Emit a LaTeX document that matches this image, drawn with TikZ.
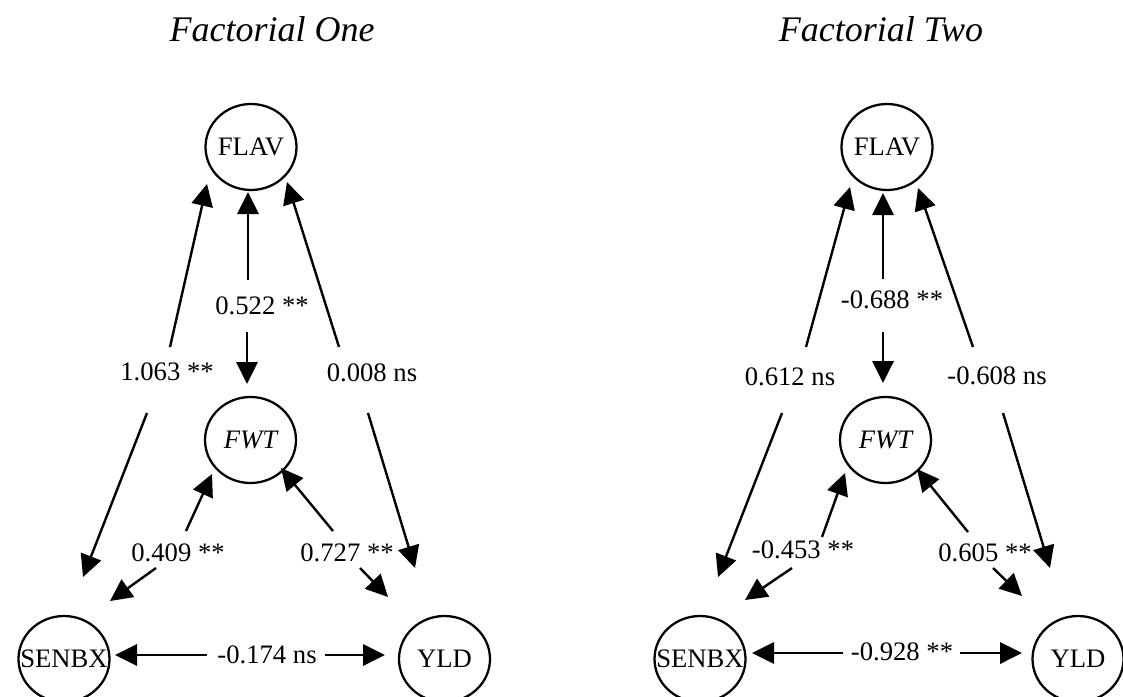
\documentclass[tikz,border=0pt]{standalone}
\usepackage{fontspec}
\setmainfont{Liberation Serif}
\usetikzlibrary{arrows.meta,shapes.geometric}
\newcommand{\ctext}[1]{\makebox[0pt]{#1}}
\begin{document}
\begin{tikzpicture}[x=0.75pt,y=-0.75pt,
  var/.style={draw,line width=1.7pt,ellipse,minimum width=68.25pt,minimum height=64.5pt,inner sep=0pt,font=\fontsize{20}{24}\selectfont},
  lab/.style={inner sep=0pt,font=\fontsize{20}{24}\selectfont},
  ttl/.style={inner sep=0pt,font=\fontsize{27}{32}\selectfont\itshape,anchor=base},
  arr/.style={line width=1.8pt,-{Triangle[length=16.5pt,width=16pt]}}]
\useasboundingbox (0,0) rectangle (1123,696);

% ---------- Factorial One ----------
\node[ttl] (t1) at (272,41) {Factorial One};
\node[var] (FLAV1) at (251,147) {\ctext{FLAV}};
\node[var] (FWT1) at (250.5,440) {\ctext{\itshape FWT}};
\node[var] (SENBX1) at (64,659) {\ctext{SENBX}};
\node[var] (YLD1) at (444.5,659) {\ctext{YLD}};

\node[lab] (l1a) at (167,372) {1.063 **};
\node[lab] (l1b) at (262,306) {0.522 **};
\node[lab] (l1c) at (372,373) {0.008 ns};
\node[lab] (l1d) at (178,553) {0.409 **};
\node[lab] (l1e) at (347,553) {0.727 **};
\node[lab] (l1f) at (267,655) {-0.174 ns};

\coordinate (a1s) at (170,347);  \coordinate (a1t) at (207,184);
\coordinate (a2s) at (147,413);  \coordinate (a2t) at (83,577);
\coordinate (a3s) at (248,280);  \coordinate (a3t) at (248,192);
\coordinate (a4s) at (247,332);  \coordinate (a4t) at (247,384);
\coordinate (a5s) at (339,347);  \coordinate (a5t) at (287,182);
\coordinate (a6s) at (368,413);  \coordinate (a6t) at (415,568);
\coordinate (a7s) at (186,531);  \coordinate (a7t) at (212,474);
\coordinate (a8s) at (156,568);  \coordinate (a8t) at (110,601);
\coordinate (a9s) at (333,531);  \coordinate (a9t) at (281,468);
\coordinate (a10s) at (360,568); \coordinate (a10t) at (388,597);
\coordinate (a11s) at (207,655); \coordinate (a11t) at (115,655);
\coordinate (a12s) at (325,655); \coordinate (a12t) at (385,655);

\foreach \i in {1,...,12} {\draw[arr] (a\i s) -- (a\i t);}

% ---------- Factorial Two ----------
\node[ttl] (t2) at (881,41) {Factorial Two};
\node[var] (FLAV2) at (887,147) {\ctext{FLAV}};
\node[var] (FWT2) at (885.5,440) {\ctext{\itshape FWT}};
\node[var] (SENBX2) at (700,659) {\ctext{SENBX}};
\node[var] (YLD2) at (1078,659) {\ctext{YLD}};

\node[lab] (r1a) at (790,377) {0.612 ns};
\node[lab] (r1b) at (892,300) {-0.688 **};
\node[lab] (r1c) at (997,376) {-0.608 ns};
\node[lab] (r1d) at (803,550) {-0.453 **};
\node[lab] (r1e) at (985,553) {0.605 **};
\node[lab] (r1f) at (902,652) {-0.928 **};

\coordinate (b1s) at (806,347);  \coordinate (b1t) at (850,187);
\coordinate (b2s) at (782,413);  \coordinate (b2t) at (718,577);
\coordinate (b3s) at (883,279);  \coordinate (b3t) at (883,193);
\coordinate (b4s) at (883,332);  \coordinate (b4t) at (883,383);
\coordinate (b5s) at (973,347);  \coordinate (b5t) at (918,188);
\coordinate (b6s) at (1003,413); \coordinate (b6t) at (1050,568);
\coordinate (b7s) at (822,537);  \coordinate (b7t) at (845,473);
\coordinate (b8s) at (792,568);  \coordinate (b8t) at (745,600);
\coordinate (b9s) at (968,532);  \coordinate (b9t) at (917,469);
\coordinate (b10s) at (993,568); \coordinate (b10t) at (1022,596);
\coordinate (b11s) at (843,653); \coordinate (b11t) at (752,653);
\coordinate (b12s) at (960,653); \coordinate (b12t) at (1022,653);

\foreach \i in {1,...,12} {\draw[arr] (b\i s) -- (b\i t);}
\end{tikzpicture}
\end{document}
